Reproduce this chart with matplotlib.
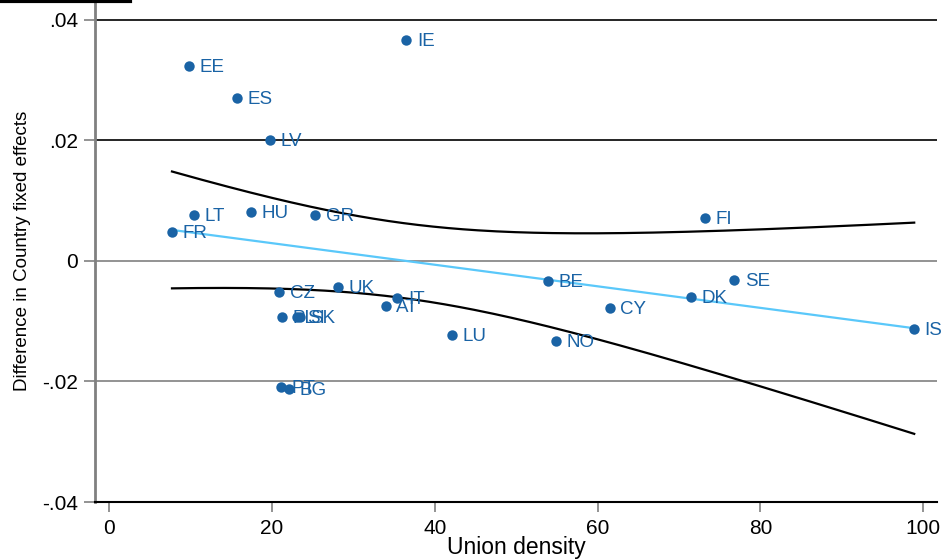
import numpy as np
import matplotlib
matplotlib.use("Agg")
import matplotlib.pyplot as plt
from matplotlib.lines import Line2D

# Country codes, union density (%) and difference in country fixed effects
countries = ["IE", "EE", "ES", "LV", "LT", "HU", "GR", "FR", "FI", "BE", "SE",
             "DK", "CY", "IS", "NO", "LU", "CZ", "UK", "IT", "AT", "PL", "SI",
             "SK", "PT", "BG"]
union_density = [36.5, 9.8, 15.7, 19.7, 10.4, 17.4, 25.3, 7.7, 73.2, 53.9, 76.8,
                 71.5, 61.5, 98.9, 54.9, 42.1, 20.9, 28.1, 35.4, 34.0, 21.2, 23.0,
                 23.4, 21.1, 22.1]
fe_difference = [0.0367, 0.0324, 0.0271, 0.0201, 0.0076, 0.0081, 0.0076, 0.0048,
                 0.0071, -0.0033, -0.0032, -0.0060, -0.0078, -0.0113, -0.0133,
                 -0.0123, -0.0051, -0.0043, -0.0061, -0.0075, -0.0093, -0.0093,
                 -0.0093, -0.0209, -0.0212]

y_ticks = [-0.04, -0.02, 0.0, 0.02, 0.04]
y_tick_labels = ["-.04", "-.02", "0", ".02", ".04"]
x_ticks = [0, 20, 40, 60, 80, 100]

plt.rcParams["font.family"] = ["Liberation Sans", "DejaVu Sans"]

x = np.asarray(union_density)
y = np.asarray(fe_difference)

# Linear fit with 95% confidence interval of the mean prediction
n = len(x)
slope, intercept = np.polyfit(x, y, 1)
resid = y - (intercept + slope * x)
s = np.sqrt(np.sum(resid ** 2) / (n - 2))
sxx = np.sum((x - x.mean()) ** 2)
t_crit = 2.069  # t(0.975, 23)
xs = np.linspace(x.min(), x.max(), 200)
fit = intercept + slope * xs
half = t_crit * s * np.sqrt(1.0 / n + (xs - x.mean()) ** 2 / sxx)

W, H = 949, 559
fig = plt.figure(figsize=(W / 100, H / 100), dpi=100)
ax = fig.add_axes([95 / W, (H - 502) / H, (937 - 95) / W, 502 / H])

blue = "#1a63a5"
grey = "#808080"

# horizontal grid lines
for yt in y_ticks[1:]:
    col = "black" if yt > 0.01 else grey
    ax.axhline(yt, color=col, lw=1.2, zorder=0)

ax.plot(xs, fit + half, color="black", lw=1.6, zorder=2)
ax.plot(xs, fit - half, color="black", lw=1.6, zorder=2)
ax.plot(xs, fit, color="#5ac8fa", lw=1.6, zorder=2)

for code, xi, yi in zip(countries, x, y):
    ax.plot(xi, yi, "o", color=blue, ms=7.5, mec="none", zorder=3)
    ax.annotate(code, (xi, yi), xytext=(7.5, -1), textcoords="offset points",
                va="center", ha="left", color=blue, fontsize=13.5, zorder=3)

ax.set_xlim(-1.76, 101.7)
ax.set_ylim(-0.04, 0.0433)
ax.set_yticks(y_ticks)
ax.set_yticklabels(y_tick_labels)
ax.set_xticks(x_ticks)

for side in ("top", "right"):
    ax.spines[side].set_visible(False)
ax.spines["left"].set_color(grey)
ax.spines["left"].set_linewidth(2)
ax.spines["bottom"].set_color("black")
ax.spines["bottom"].set_linewidth(1.5)

ax.tick_params(axis="y", length=8, width=1.2, color=grey, pad=4,
               labelsize=15, labelcolor="black")
ax.tick_params(axis="x", length=7, width=1.2, color=grey, pad=5,
               labelsize=15, labelcolor="black")

ax.set_xlabel("Union density", fontsize=16.5, labelpad=-1)
ax.set_ylabel("Difference in Country fixed effects", fontsize=13.5, labelpad=8)

fig.add_artist(Line2D([0, 130 / W], [1 - 1 / H, 1 - 1 / H], color="black", lw=3))

fig.savefig("out.png", dpi=100, facecolor="white")
